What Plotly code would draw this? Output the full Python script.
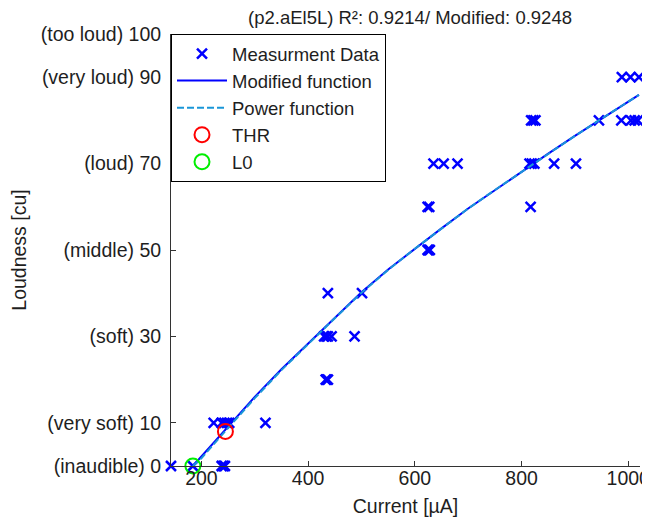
import plotly.graph_objects as go

# Measurement data (current in µA, loudness in CU)
meas_x = [143, 184, 238, 241, 244,
          223, 238, 243, 248, 252, 320,
          433, 435, 437,
          430, 434, 437, 444, 487,
          437, 501,
          624, 626, 628,
          624, 627, 817,
          635, 654, 680, 815, 819, 824, 861, 902,
          818, 822, 826, 945, 987, 1005, 1012, 1018,
          988, 1004, 1020]
meas_y = [0, 0, 0, 0, 0,
          10, 10, 10, 10, 10, 10,
          20, 20, 20,
          30, 30, 30, 30, 30,
          40, 40,
          50, 50, 50,
          60, 60, 60,
          70, 70, 70, 70, 70, 70, 70, 70,
          80, 80, 80, 80, 80, 80, 80, 80,
          90, 90, 90]

# Fitted curves
curve_x = [184, 200, 250, 300, 350, 400, 450, 500, 550, 600, 650, 700, 750, 800, 850, 900, 950, 1000, 1020]
modified_y = [0, 2.2, 9.2, 16.0, 22.4, 28.4, 34.3, 40.2, 45.5, 50.3, 55.0, 59.6, 63.9, 68.1, 72.3, 76.4, 80.4, 84.3, 85.9]
power_y = [0, 1.8, 8.8, 15.7, 22.2, 28.3, 34.2, 40.1, 45.4, 50.3, 55.0, 59.6, 63.9, 68.1, 72.3, 76.4, 80.4, 84.3, 85.9]

thr_x, thr_y = [245], [8]
l0_x, l0_y = [184], [0]

y_tickvals = [0, 10, 30, 50, 70, 90, 100]
y_ticktext = ["(inaudible) 0", "(very soft) 10", "(soft) 30", "(middle) 50",
              "(loud) 70", "(very loud) 90", "(too loud) 100"]
x_tickvals = [200, 400, 600, 800, 1000]

title_text = "(p2.aEl5L) R²: 0.9214/ Modified: 0.9248"

FONT = "Arial, Liberation Sans, sans-serif"
TXT = "#1e1e1e"
FS = 19.5

fig = go.Figure()
fig.add_trace(go.Scatter(x=meas_x, y=meas_y, mode="markers", name="Measurment Data",
                         marker=dict(symbol="x-thin", size=10, color="#0000ff",
                                     line=dict(width=2.5, color="#0000ff")),
                         cliponaxis=False))
fig.add_trace(go.Scatter(x=curve_x, y=modified_y, mode="lines", name="Modified function",
                         line=dict(color="#0000ff", width=2)))
fig.add_trace(go.Scatter(x=curve_x, y=power_y, mode="lines", name="Power function",
                         line=dict(color="#1a96d8", width=2, dash="7px,3px")))
fig.add_trace(go.Scatter(x=thr_x, y=thr_y, mode="markers", name="THR",
                         marker=dict(symbol="circle-open", size=15, color="#ff0000",
                                     line=dict(width=2, color="#ff0000")),
                         cliponaxis=False))
fig.add_trace(go.Scatter(x=l0_x, y=l0_y, mode="markers", name="L0",
                         marker=dict(symbol="circle-open", size=15, color="#00ee00",
                                     line=dict(width=2, color="#00ee00")),
                         cliponaxis=False))

fig.update_layout(
    width=650, height=520,
    margin=dict(l=163, r=18, t=26, b=62, autoexpand=False),
    paper_bgcolor="white", plot_bgcolor="white",
    font=dict(family=FONT, size=FS, color=TXT),
    title=dict(text=title_text, x=402 / 650, xref="container", xanchor="center",
               y=1 - 9.5 / 520, yref="container", yanchor="middle",
               font=dict(family=FONT, size=18.5, color=TXT)),
    showlegend=True,
    legend=dict(x=0, y=1, xanchor="left", yanchor="top", xref="paper", yref="paper",
                bordercolor="#000000", borderwidth=1, bgcolor="white",
                font=dict(family=FONT, size=18.5, color=TXT),
                itemwidth=50, tracegroupgap=0),
)
fig.update_xaxes(range=[143, 1022], tickvals=x_tickvals, ticks="inside", ticklen=5,
                 tickcolor="#333333", showline=True, linecolor="#333333", linewidth=1,
                 showgrid=False, zeroline=False, mirror=False, automargin=False,
                 ticklabelstandoff=-5, ticklabeloverflow="allow",
                 title=dict(text="Current [µA]", standoff=10,
                            font=dict(family=FONT, size=FS, color=TXT)))
fig.update_yaxes(range=[0, 100], tickvals=y_tickvals, ticktext=y_ticktext,
                 ticks="inside", ticklen=5, tickcolor="#333333",
                 showline=True, linecolor="#333333", linewidth=1,
                 showgrid=False, zeroline=False, mirror=False, automargin=False,
                 ticklabelstandoff=5, ticklabeloverflow="allow",
                 title=dict(text="Loudness [cu]", standoff=12,
                            font=dict(family=FONT, size=FS, color=TXT)))

fig.write_html("out.html")
